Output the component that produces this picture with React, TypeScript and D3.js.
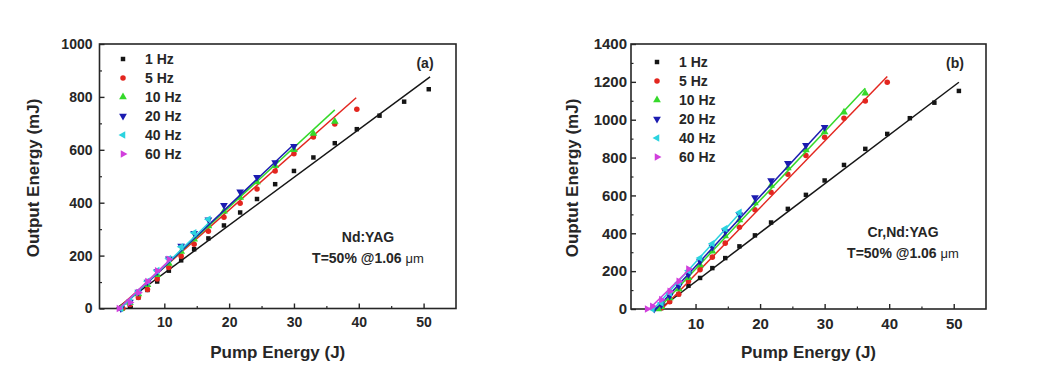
import { useEffect, useRef } from 'react';
import * as d3 from 'd3';

type Pt = [number, number];

const legendLabels = ['1 Hz', '5 Hz', '10 Hz', '20 Hz', '40 Hz', '60 Hz'];
const seriesColors = ['#151515', '#e3261f', '#35d92a', '#1b1bb0', '#2bd3df', '#d13fdc'];
const seriesShapes = ['square', 'circle', 'up', 'down', 'left', 'right'];

const xTicks = [10, 20, 30, 40, 50];

// (a) Nd:YAG — measured points
const a1Hz: Pt[] = [[4.7, 8], [6.0, 42], [7.4, 70], [8.9, 102], [10.7, 143], [12.6, 182], [14.6, 224], [16.8, 265], [19.2, 314], [21.7, 363], [24.3, 414], [27.1, 470], [30.0, 520], [33.0, 571], [36.3, 625], [39.7, 678], [43.2, 729], [47.0, 782], [50.8, 829]];
const a5Hz: Pt[] = [[3.6, 0], [4.7, 15], [6.0, 42], [7.4, 72], [8.9, 112], [10.7, 155], [12.6, 198], [14.6, 243], [16.8, 292], [19.2, 345], [21.7, 398], [24.3, 452], [27.1, 520], [30.0, 585], [33.0, 648], [36.3, 698], [39.7, 753]];
const a10Hz: Pt[] = [[3.3, 0], [4.7, 22], [6.0, 55], [7.4, 90], [8.9, 128], [10.7, 170], [12.6, 215], [14.6, 262], [16.8, 312], [19.2, 368], [21.7, 420], [24.3, 478], [27.1, 540], [30.0, 600], [33.0, 662], [36.3, 707]];
const a20Hz: Pt[] = [[3.3, 0], [4.7, 25], [6.0, 62], [7.4, 100], [8.9, 140], [10.7, 188], [12.6, 236], [14.6, 285], [16.8, 336], [19.2, 390], [21.7, 441], [24.3, 496], [27.1, 552], [30.0, 613]];
const a40Hz: Pt[] = [[3.3, 0], [4.7, 28], [6.0, 65], [7.4, 103], [8.9, 143], [10.7, 188], [12.6, 233], [14.6, 286], [16.8, 337]];
const a60Hz: Pt[] = [[3.0, 0], [4.7, 23], [6.0, 60], [7.4, 102], [8.9, 142], [10.7, 186]];

// (a) linear fits: start and end points
const aFits: [Pt, Pt][] = [
  [[2.6, 0], [51.0, 876]],
  [[2.8, 0], [39.6, 797]],
  [[3.0, 0], [36.3, 751]],
  [[3.2, 0], [30.0, 621]],
  [[3.2, 0], [16.8, 322]],
  [[3.0, 0], [10.7, 180]],
];

// (b) Cr,Nd:YAG — measured points
const b1Hz: Pt[] = [[4.7, 5], [6.0, 40], [7.4, 79], [8.9, 123], [10.7, 164], [12.6, 216], [14.6, 269], [16.8, 331], [19.2, 389], [21.7, 457], [24.3, 529], [27.1, 603], [30.0, 679], [33.0, 761], [36.3, 846], [39.7, 925], [43.2, 1008], [47.0, 1090], [50.8, 1152]];
const b5Hz: Pt[] = [[4.7, 5], [6.0, 38], [7.4, 78], [8.9, 146], [10.7, 208], [12.6, 274], [14.6, 348], [16.8, 432], [19.2, 524], [21.7, 617], [24.3, 712], [27.1, 811], [30.0, 907], [33.0, 1008], [36.3, 1099], [39.7, 1198]];
const b10Hz: Pt[] = [[4.2, 0], [4.7, 12], [6.0, 58], [7.4, 105], [8.9, 165], [10.7, 232], [12.6, 305], [14.6, 385], [16.8, 470], [19.2, 560], [21.7, 652], [24.3, 745], [27.1, 840], [30.0, 935], [33.0, 1040], [36.3, 1140]];
const b20Hz: Pt[] = [[3.6, 0], [4.7, 22], [6.0, 70], [7.4, 122], [8.9, 182], [10.7, 252], [12.6, 328], [14.6, 410], [16.8, 498], [19.2, 589], [21.7, 679], [24.3, 770], [27.1, 865], [30.0, 960]];
const b40Hz: Pt[] = [[3.3, 0], [4.7, 32], [6.0, 85], [7.4, 140], [8.9, 202], [10.7, 269], [12.6, 345], [14.6, 424], [16.8, 510]];
const b60Hz: Pt[] = [[2.5, 0], [3.3, 14], [4.7, 49], [6.0, 93], [7.4, 146], [8.9, 211]];

const bFits: [Pt, Pt][] = [
  [[4.4, 0], [50.8, 1198]],
  [[4.8, 0], [39.7, 1228]],
  [[4.2, 0], [36.3, 1166]],
  [[3.9, 0], [30.0, 964]],
  [[3.5, 0], [16.8, 505]],
  [[2.8, 0], [8.9, 205]],
];

const FONT = '"Liberation Sans", Arial, sans-serif';
const INK = '#262626';

interface PanelCfg {
  left: number; right: number; top: number; bottom: number;
  yMax: number; tickFont: number; tickPad: number;
  series: Pt[][]; fits: [Pt, Pt][];
  yTitle: string; yTitleX: number; tag: string;
  legendX: number; legendY: number;
  note1: string; noteX: number; noteY: number;
}

function symbolPath(shape: string) {
  if (shape === 'square') return d3.symbol().type(d3.symbolSquare).size(20)()!;
  if (shape === 'circle') return d3.symbol().type(d3.symbolCircle).size(24)()!;
  return d3.symbol().type(d3.symbolTriangle).size(26)()!;
}
const rot: Record<string, number> = { square: 0, circle: 0, up: 0, down: 180, left: -90, right: 90 };

function drawPanel(svg: d3.Selection<SVGSVGElement, unknown, null, undefined>, c: PanelCfg) {
  const x = d3.scaleLinear().domain([0, 55]).range([c.left, c.right]);
  const y = d3.scaleLinear().domain([0, c.yMax]).range([c.bottom, c.top]);
  const g = svg.append('g');

  // minor ticks
  g.append('g').attr('transform', `translate(0,${c.bottom})`)
    .call(d3.axisBottom(x).tickValues(d3.range(5, 55, 10)).tickSize(-2.5).tickFormat(() => ''))
    .call(s => s.select('.domain').remove())
    .call(s => s.selectAll('line').attr('stroke', INK).attr('stroke-width', 1.2));
  g.append('g').attr('transform', `translate(${c.left},0)`)
    .call(d3.axisLeft(y).tickValues(d3.range(100, c.yMax, 200)).tickSize(-2.5).tickFormat(() => ''))
    .call(s => s.select('.domain').remove())
    .call(s => s.selectAll('line').attr('stroke', INK).attr('stroke-width', 1.2));

  // major ticks + labels
  g.append('g').attr('transform', `translate(0,${c.bottom})`)
    .call(d3.axisBottom(x).tickValues(xTicks).tickSize(-5).tickPadding(9).tickFormat(d3.format('d')))
    .call(s => s.select('.domain').remove())
    .call(s => s.selectAll('line').attr('stroke', INK).attr('stroke-width', 1.4))
    .call(s => s.selectAll('text').attr('fill', INK).attr('font-size', c.tickFont)
      .attr('font-family', FONT).attr('font-weight', 'bold'));
  g.append('g').attr('transform', `translate(${c.left},0)`)
    .call(d3.axisLeft(y).tickValues(d3.range(0, c.yMax + 1, 200)).tickSize(-5).tickPadding(c.tickPad).tickFormat(d3.format('d')))
    .call(s => s.select('.domain').remove())
    .call(s => s.selectAll('line').attr('stroke', INK).attr('stroke-width', 1.4))
    .call(s => s.selectAll('text').attr('fill', INK).attr('font-size', c.tickFont)
      .attr('font-family', FONT).attr('font-weight', 'bold'));

  // frame
  g.append('rect').attr('x', c.left).attr('y', c.top)
    .attr('width', c.right - c.left).attr('height', c.bottom - c.top)
    .attr('fill', 'none').attr('stroke', INK).attr('stroke-width', 1.6);

  // fits + points
  const line = d3.line<Pt>().x(d => x(d[0])).y(d => y(d[1]));
  c.series.forEach((pts, i) => {
    g.append('path').datum(c.fits[i]).attr('d', line).attr('fill', 'none')
      .attr('stroke', seriesColors[i]).attr('stroke-width', 1.5);
    const shape = seriesShapes[i];
    g.append('g').selectAll('path').data(pts).join('path')
      .attr('d', symbolPath(shape))
      .attr('transform', d => `translate(${x(d[0])},${y(d[1])}) rotate(${rot[shape]})`)
      .attr('fill', seriesColors[i]);
  });

  // legend
  legendLabels.forEach((lab, i) => {
    const ly = c.legendY + i * 19;
    const shape = seriesShapes[i];
    g.append('path').attr('d', symbolPath(shape))
      .attr('transform', `translate(${c.legendX},${ly}) rotate(${rot[shape]})`)
      .attr('fill', seriesColors[i]);
    g.append('text').attr('x', c.legendX + 22).attr('y', ly).attr('dy', '0.36em')
      .attr('font-family', FONT).attr('font-weight', 'bold').attr('font-size', 14)
      .attr('fill', INK).text(lab);
  });

  // axis titles
  g.append('text').attr('x', (c.left + c.right) / 2).attr('y', 358)
    .attr('text-anchor', 'middle').attr('font-family', FONT).attr('font-weight', 'bold')
    .attr('font-size', 17).attr('fill', INK).text('Pump Energy (J)');
  g.append('text').attr('transform', `translate(${c.yTitleX},178) rotate(-90)`)
    .attr('text-anchor', 'middle').attr('dy', '0.36em').attr('font-family', FONT)
    .attr('font-weight', 'bold').attr('font-size', 17).attr('fill', INK).text(c.yTitle);

  // tag and notes
  g.append('text').attr('x', c.right - 31).attr('y', c.top + 19).attr('dy', '0.36em')
    .attr('text-anchor', 'middle').attr('font-family', FONT).attr('font-weight', 'bold')
    .attr('font-size', 14).attr('fill', INK).text(c.tag);
  g.append('text').attr('x', c.noteX).attr('y', c.noteY).attr('dy', '0.36em')
    .attr('text-anchor', 'middle').attr('font-family', FONT).attr('font-weight', 'bold')
    .attr('font-size', 14).attr('fill', INK).text(c.note1);
  const t2 = g.append('text').attr('x', c.noteX).attr('y', c.noteY + 21).attr('dy', '0.36em')
    .attr('text-anchor', 'middle').attr('font-family', FONT).attr('font-weight', 'bold')
    .attr('font-size', 14).attr('fill', INK);
  t2.append('tspan').text('T=50% @1.06 ');
  t2.append('tspan').attr('font-weight', 'normal').attr('font-size', 13).text('μm');
}

export default function App() {
  const ref = useRef<SVGSVGElement>(null);

  useEffect(() => {
    if (!ref.current) return;
    const svg = d3.select(ref.current);
    svg.selectAll('*').remove();

    drawPanel(svg, {
      left: 99.5, right: 456, top: 44, bottom: 308.5,
      yMax: 1000, tickFont: 14, tickPad: 7,
      series: [a1Hz, a5Hz, a10Hz, a20Hz, a40Hz, a60Hz], fits: aFits,
      yTitle: 'Output Energy (mJ)', yTitleX: 33, tag: '(a)',
      legendX: 123, legendY: 59,
      note1: 'Nd:YAG', noteX: 368, noteY: 237,
    });
    drawPanel(svg, {
      left: 631, right: 986, top: 44, bottom: 309,
      yMax: 1400, tickFont: 15, tickPad: 4,
      series: [b1Hz, b5Hz, b10Hz, b20Hz, b40Hz, b60Hz], fits: bFits,
      yTitle: 'Ouptut Energy (mJ)', yTitleX: 572, tag: '(b)',
      legendX: 657, legendY: 62,
      note1: 'Cr,Nd:YAG', noteX: 903, noteY: 232,
    });
  }, []);

  return (
    <svg ref={ref} width={1049} height={374}
      style={{ position: 'absolute', left: 0, top: 0, background: '#fff' }} />
  );
}
